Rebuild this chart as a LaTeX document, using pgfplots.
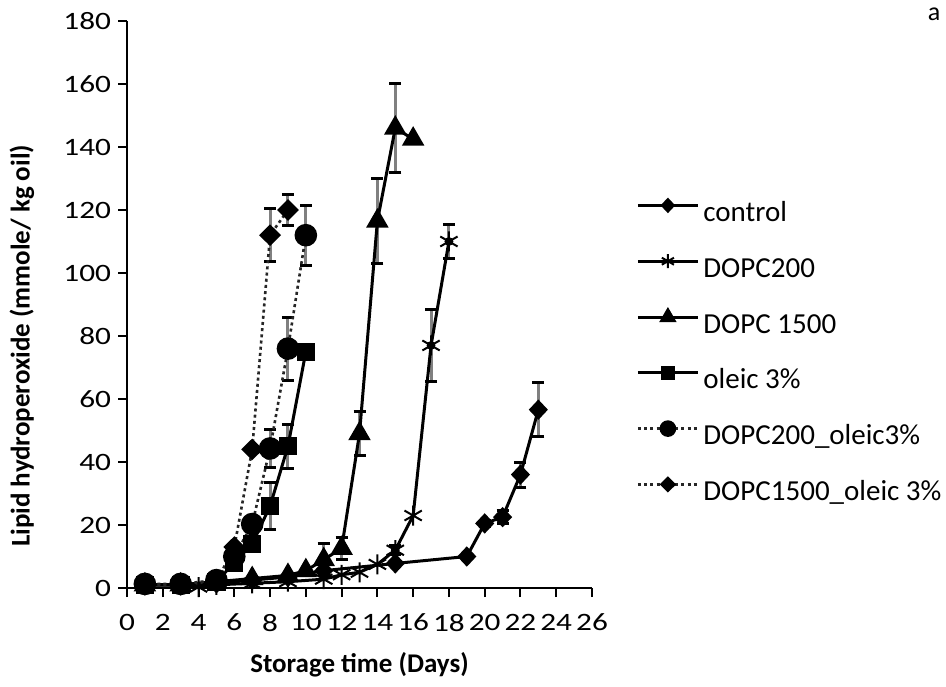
\documentclass[border=0pt]{standalone}
\usepackage{fontspec}
\setmainfont{Carlito}
\newfontfamily\tickfont{Carlito}[FakeStretch=1.25]
\usepackage{pgfplots}
\pgfplotsset{compat=1.18}
\usepackage{pgfplotstable}

\pgfplotstableread{
x y
1 1
3 1
5 1.5
7 2.5
9 3.5
11 5.5
15 7.8
19 10
20 20.5
21 22.5
22 36
23 56.6
}\control
\pgfplotstableread{
x y
1 1
3 1
4 0.3
5 1
7 1.5
9 2
11 2.8
12 4.2
13 5
14 7.5
15 12
16 23
17 77
18 110
}\dopcA
\pgfplotstableread{
x y
1 1
3 1
5 2
7 3
9 4
10 5.5
11 9
12 12.6
13 49
14 116.5
15 146
16 142.5
}\dopcB
\pgfplotstableread{
x y
1 1
3 1
5 2
6 8
7 14
8 26
9 45
10 75
}\oleic
\pgfplotstableread{
x y
1 1.3
3 1.3
5 2.5
6 10
7 20.3
8 44.3
9 76
10 112
}\dopcAol
\pgfplotstableread{
x y
1 1
3 1
5 2
6 13
7 44
8 112
9 120
}\dopcBol
% error bars
\pgfplotstableread{
x y e
20 20.5 1
21 22.5 2
22 36 4
23 56.6 8.5
}\controlE
\pgfplotstableread{
x y e
15 12 1.5
17 77 11.5
18 110 5.5
}\dopcAE
\pgfplotstableread{
x y e
11 9 5
12 12.6 3.5
13 49 7
14 116.5 13.5
15 146 14
}\dopcBE
\pgfplotstableread{
x y e
8 26 7.5
9 45 7
}\oleicE
\pgfplotstableread{
x y e
8 44.3 6
9 76 10
10 112 9.5
}\dopcAolE
\pgfplotstableread{
x y e
8 112 8.5
9 120 5
}\dopcBolE

\begin{document}
\begin{tikzpicture}
\path[use as bounding box] (0,0) rectangle (473pt,343pt);
\begin{axis}[
 at={(63.5pt,49pt)}, anchor=south west,
 width=232.5pt, height=283.5pt, scale only axis,
 xmin=0, xmax=26, ymin=0, ymax=180,
 xtick={0,2,...,26}, ytick={0,20,...,180},
 axis x line=bottom, axis y line=left,
 axis line style={-, line width=1pt},
 tick style={line width=1pt, black},
 tick align=outside, major tick length=4.5pt,
 /pgf/number format/assume math mode=true,
 ticklabel style={font=\tickfont\fontsize{12.5}{14}\selectfont},
 xticklabel style={yshift=-5pt},
 xlabel={\textbf{Storage time (Days)}},
 ylabel={\textbf{Lipid hydroperoxide (mmole/ kg oil)}},
 label style={font=\fontsize{13.5}{16}\selectfont},
 xlabel style={at={(axis description cs:0.5,-0.136)}, anchor=center},
 ylabel style={at={(axis description cs:-0.226,0.427)}, anchor=center},
 clip=false,
 legend style={at={(axis description cs:1,1)}, anchor=north west, xshift=22pt, yshift=-87pt,
   draw=none, fill=none, inner sep=0pt, row sep=9.9pt, column sep=0pt,
   font=\fontsize{14.5}{17}\selectfont,
   nodes={text height=11pt, text depth=3pt, inner sep=2pt}},
 legend cell align=left,
 legend image code/.code={\draw[mark repeat=2,mark phase=2,#1,every mark/.append style={scale=0.7}] plot coordinates {(0pt,4pt) (15pt,4pt) (30pt,4pt)};},
 eb/.style={forget plot, only marks, mark=none,
   error bars/y dir=both, error bars/y explicit,
   error bars/error bar style={line width=1.5pt, black!50, solid},
   error bars/error mark options={rotate=90, mark size=3pt, line width=1.5pt, black, solid}},
 solidser/.style={black, solid, line width=1.5pt},
 dotser/.style={black!85, line width=1.3pt, dash pattern=on 1.5pt off 1.6pt},
]
\addplot[eb] table[x=x,y=y,y error=e] {\controlE};
\addplot[eb] table[x=x,y=y,y error=e] {\dopcAE};
\addplot[eb] table[x=x,y=y,y error=e] {\dopcBE};
\addplot[eb] table[x=x,y=y,y error=e] {\oleicE};
\addplot[eb] table[x=x,y=y,y error=e] {\dopcAolE};
\addplot[eb] table[x=x,y=y,y error=e] {\dopcBolE};

\addplot[solidser, mark=diamond*, mark size=4pt, mark options={solid, fill=black, xscale=1.25}] table[x=x,y=y] {\control};
\addlegendentry{control}
\addplot[solidser, mark=asterisk, mark size=5pt, mark options={solid, line width=1pt}] table[x=x,y=y] {\dopcA};
\addlegendentry{DOPC200}
\addplot[solidser, mark=triangle*, mark size=5pt, mark options={solid, fill=black}] table[x=x,y=y] {\dopcB};
\addlegendentry{DOPC 1500}
\addplot[solidser, mark=square*, mark size=3.8pt, mark options={solid, fill=black}] table[x=x,y=y] {\oleic};
\addlegendentry{oleic 3\%}
\addplot[dotser, mark=*, mark size=5pt, mark options={solid, fill=black, draw=black}] table[x=x,y=y] {\dopcAol};
\addlegendentry{DOPC200\_oleic3\%}
\addplot[dotser, mark=diamond*, mark size=4.5pt, mark options={solid, fill=black, draw=black, xscale=1.35}] table[x=x,y=y] {\dopcBol};
\addlegendentry{DOPC1500\_oleic 3\%}
\end{axis}
\node[font=\fontsize{13}{14}\selectfont] at (467pt,336pt) {a};
\end{tikzpicture}
\end{document}
